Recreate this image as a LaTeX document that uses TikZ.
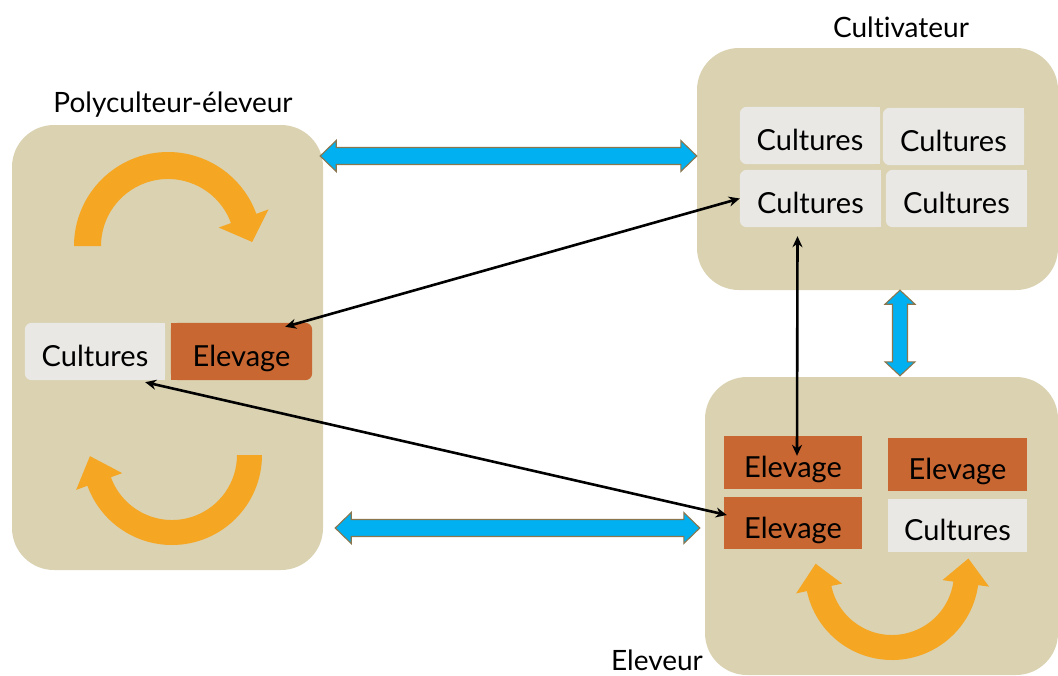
\documentclass[tikz,border=0pt]{standalone}
\usepackage{fontspec}
\setmainfont{Lato}[Ligatures=NoCommon]
\usetikzlibrary{calc,arrows.meta}
\definecolor{panel}{RGB}{218,210,177}
\definecolor{elev}{RGB}{200,103,50}
\definecolor{cult}{RGB}{233,232,229}
\definecolor{orng}{RGB}{245,166,35}
\definecolor{blu}{RGB}{0,176,240}
\definecolor{bluedge}{RGB}{140,118,78}
\pgfdeclarelayer{bg}\pgfdeclarelayer{mid}\pgfsetlayers{bg,mid,main}
\newcommand\myfillL[2]{\begin{pgfonlayer}{mid}\fill[#2,rounded corners=7pt](#1.north west) rectangle (#1.south east);\fill[#2](#1.north) rectangle (#1.south east);\end{pgfonlayer}}
\newcommand\myfillR[2]{\begin{pgfonlayer}{mid}\fill[#2,rounded corners=7pt](#1.north west) rectangle (#1.south east);\fill[#2](#1.north west) rectangle (#1.south);\end{pgfonlayer}}
\newcommand\myfillS[2]{\begin{pgfonlayer}{mid}\fill[#2](#1.north west) rectangle (#1.south east);\end{pgfonlayer}}
\tikzset{
  panelbox/.style={fill=panel, rounded corners=42pt, inner sep=0pt, draw=none},
  lbl/.style={font=\fontsize{29}{32}\selectfont, inner sep=0pt, text height=30pt, text depth=0pt, minimum width=140pt, minimum height=57pt},
  ttl/.style={font=\fontsize{28}{31}\selectfont, inner sep=0pt},
  bluearrow/.style={fill=blu, draw=bluedge, line width=1.1pt, line join=miter},
  orangearrow/.style={fill=orng},
  blk/.style={draw=black, line width=2.6pt, {Stealth[length=11pt,width=10pt]}-{Stealth[length=11pt,width=10pt]}}
}
\begin{document}
\begin{tikzpicture}[x=1pt,y=1pt,yscale=-1]
\useasboundingbox (0,0) rectangle (1058,675);
% panels
\begin{pgfonlayer}{bg}
\node[panelbox, minimum width=311pt, minimum height=445pt] (pL) at (167.5,347.5) {};
\node[panelbox, minimum width=361pt, minimum height=242pt] (pT) at (877.5,169) {};
\node[panelbox, minimum width=353pt, minimum height=298pt] (pB) at (881.5,526) {};
\end{pgfonlayer}
% titles
\node[ttl] (tL) at (173,105) {Polyculteur-éleveur};
\node[ttl] (tT) at (901,27) {Cultivateur};
\node[ttl] (tB) at (657,660) {Eleveur};
% left boxes
\node[lbl] (lcult) at (95,351.5) {Cultures};
\node[lbl, minimum width=141pt] (lelev) at (241.5,351.5) {Elevage};
\myfillL{lcult}{cult}
\myfillR{lelev}{elev}
% top right boxes
\node[lbl] (tc1) at (810,135.5) {Cultures};
\node[lbl, minimum width=141pt] (tc2) at (953.5,136.5) {Cultures};
\node[lbl, minimum width=141pt] (tc3) at (810.5,198.5) {Cultures};
\node[lbl, minimum width=141pt] (tc4) at (956.5,198.5) {Cultures};
\myfillL{tc1}{cult}\myfillL{tc2}{cult}\myfillL{tc3}{cult}\myfillL{tc4}{cult}
% bottom right boxes
\node[lbl, minimum width=138pt, minimum height=53pt] (be1) at (793,462.5) {Elevage};
\node[lbl, minimum width=139pt, minimum height=53pt] (be2) at (957.5,464.5) {Elevage};
\node[lbl, minimum width=138pt, minimum height=52pt] (be3) at (793,523) {Elevage};
\node[lbl, minimum width=139pt, minimum height=53pt] (bc4) at (957.5,525.5) {Cultures};
\myfillS{be1}{elev}\myfillS{be2}{elev}\myfillS{be3}{elev}\myfillS{bc4}{cult}
% blue arrows
\coordinate (h1s) at ($(pL.east)+(-3,-191.5)$);
\coordinate (h1e) at ($(pT.west)+(0,-13)$);
\coordinate (h2s) at ($(pL.east)+(12,180.5)$);
\coordinate (h2e) at ($(pB.west)+(-5,2)$);
\coordinate (v1s) at ($(pT.south)+(22.5,0)$);
\coordinate (v1e) at ($(pB.north)+(18.5,-1)$);
\draw[bluearrow] (h1s) -- ++(16,-15.5) -- ++(0,7) -- ($(h1e)+(-16,-8.5)$) -- ++(0,-7) -- (h1e) -- ++(-16,15.5) -- ++(0,-7) -- ($(h1s)+(16,8.5)$) -- ++(0,7) -- cycle;
\draw[bluearrow] (h2s) -- ++(16,-15.5) -- ++(0,7) -- ($(h2e)+(-16,-8.5)$) -- ++(0,-7) -- (h2e) -- ++(-16,15.5) -- ++(0,-7) -- ($(h2s)+(16,8.5)$) -- ++(0,7) -- cycle;
\draw[bluearrow] (v1s) -- ++(-15,14) -- ++(7.5,0) -- ($(v1e)+(-7.5,-14)$) -- ++(-7.5,0) -- (v1e) -- ++(15,-14) -- ++(-7.5,0) -- ($(v1s)+(7.5,14)$) -- ++(7.5,0) -- cycle;
% orange curved arrows
\coordinate (c1) at (168,246);
\coordinate (c2) at (172,455);
\coordinate (c3) at (892,573);
\fill[orangearrow] ($(c1)+(180:94)$) arc[start angle=180, end angle=340, radius=94] -- ($(c1)+(340:107)$) -- ($(c1)+(340:80.5)+(70:25)$) -- ($(c1)+(340:54)$) -- ($(c1)+(340:67)$) arc[start angle=340, end angle=180, radius=67] -- cycle;
\fill[orangearrow] ($(c2)+(0:90)$) arc[start angle=0, end angle=160, radius=90] -- ($(c2)+(160:102)$) -- ($(c2)+(160:77.5)+(250:27)$) -- ($(c2)+(160:53)$) -- ($(c2)+(160:65)$) arc[start angle=160, end angle=0, radius=65] -- cycle;
\fill[orangearrow] ($(c3)+(8:74.5)+(-84:25)$) -- ($(c3)+(8:98)$) -- ($(c3)+(8:87)$) arc[start angle=8, end angle=168, radius=87] -- ($(c3)+(168:98)$) -- ($(c3)+(168:74.5)+(262:25)$) -- ($(c3)+(168:51)$) -- ($(c3)+(168:62)$) arc[start angle=168, end angle=8, radius=62] -- ($(c3)+(8:51)$) -- cycle;
% black arrows
\draw[blk] ($(lelev.north east)+(-27,4)$) -- (tc3.west);
\draw[blk] ($(lcult.south east)+(-20,2)$) -- ($(be3.west)+(3,-8)$);
\draw[blk] ($(tc3.south)+(-13,9)$) -- ($(be1.north)+(4,20)$);
\end{tikzpicture}
\end{document}
